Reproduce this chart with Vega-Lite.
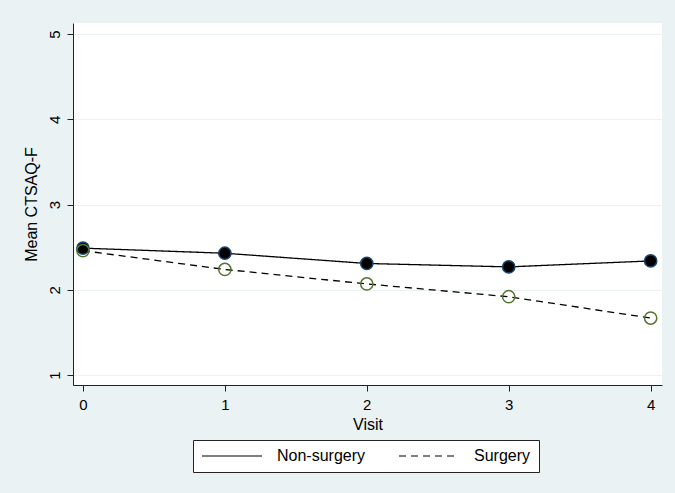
{
  "$schema": "https://vega.github.io/schema/vega-lite/v6.json",
  "autosize": {"type": "none"},
  "padding": {"left": 73, "top": 23, "right": 13, "bottom": 108},
  "width": 589,
  "height": 362,
  "background": "#eaf2f3",
  "data": {
    "values": [
      {"visit": 0, "group": "Non-surgery", "mean": 2.49},
      {"visit": 1, "group": "Non-surgery", "mean": 2.43},
      {"visit": 2, "group": "Non-surgery", "mean": 2.31},
      {"visit": 3, "group": "Non-surgery", "mean": 2.27},
      {"visit": 4, "group": "Non-surgery", "mean": 2.34},
      {"visit": 0, "group": "Surgery", "mean": 2.46},
      {"visit": 1, "group": "Surgery", "mean": 2.24},
      {"visit": 2, "group": "Surgery", "mean": 2.07},
      {"visit": 3, "group": "Surgery", "mean": 1.92},
      {"visit": 4, "group": "Surgery", "mean": 1.67}
    ]
  },
  "encoding": {
    "x": {
      "field": "visit",
      "type": "quantitative",
      "title": "Visit",
      "scale": {"domain": [-0.07, 4.08], "nice": false, "zero": false},
      "axis": {
        "values": [0, 1, 2, 3, 4],
        "format": "d",
        "grid": false,
        "labelFontSize": 15,
        "labelPadding": 6,
        "titleFontSize": 16,
        "titlePadding": 4
      }
    },
    "y": {
      "field": "mean",
      "type": "quantitative",
      "title": "Mean CTSAQ-F",
      "scale": {"domain": [0.885, 5.13], "nice": false, "zero": false},
      "axis": {
        "values": [1, 2, 3, 4, 5],
        "format": "d",
        "grid": true,
        "labelAngle": -90,
        "labelAlign": "center",
        "labelBaseline": "bottom",
        "labelFontSize": 15,
        "labelPadding": 5,
        "titleFontSize": 16,
        "titlePadding": 8
      }
    }
  },
  "layer": [
    {
      "mark": {"type": "line", "color": "black", "strokeWidth": 1.3},
      "encoding": {
        "strokeDash": {
          "field": "group",
          "type": "nominal",
          "title": null,
          "scale": {"domain": ["Non-surgery", "Surgery"], "range": [[1, 0], [7, 5]]},
          "legend": {
            "orient": "none",
            "legendX": 120,
            "legendY": 417,
            "direction": "horizontal",
            "symbolType": "stroke",
            "symbolSize": 3600,
            "clipHeight": 16,
            "symbolStrokeWidth": 1.2,
            "symbolStrokeColor": "black",
            "labelFontSize": 16,
            "labelColor": "black",
            "labelOffset": 14,
            "columnPadding": 32,
            "padding": 8,
            "fillColor": "white",
            "strokeColor": "#222"
          }
        }
      }
    },
    {
      "transform": [{"filter": "datum.group === 'Non-surgery'"}],
      "mark": {"type": "point", "shape": "circle", "filled": true, "fill": "black", "stroke": "#1a476f", "strokeWidth": 1.5, "size": 150, "opacity": 1}
    },
    {
      "transform": [{"filter": "datum.group === 'Surgery'"}],
      "mark": {"type": "point", "shape": "circle", "filled": false, "stroke": "#55752f", "strokeWidth": 1.5, "size": 150, "opacity": 1}
    }
  ],
  "config": {
    "font": "Liberation Sans",
    "view": {"stroke": null, "fill": "white"},
    "axis": {
      "domainColor": "#222",
      "tickColor": "#222",
      "tickSize": 6,
      "labelColor": "black",
      "titleFontWeight": "normal",
      "titleColor": "black",
      "gridColor": "#eaf2f3",
      "gridWidth": 1.2
    }
  }
}
